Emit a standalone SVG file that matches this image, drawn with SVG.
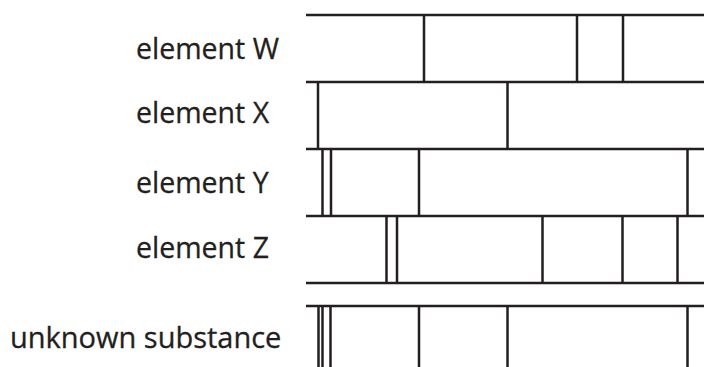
<svg xmlns="http://www.w3.org/2000/svg" width="704" height="367" viewBox="0 0 704 367">
<style>
  .ln { stroke: #231f20; stroke-width: 2.5; fill: none; }
  .lbl { font-family: "Open Sans", "Noto Sans", sans-serif; font-size: 28.5px; fill: #231f20; stroke: #231f20; stroke-width: 0.3; }
</style>
<rect width="704" height="367" fill="#ffffff"/>
<g id="labels">
  <text class="lbl" x="136" y="59">element W</text>
  <text class="lbl" x="136" y="123">element X</text>
  <text class="lbl" x="136" y="193">element Y</text>
  <text class="lbl" x="136" y="257.5">element Z</text>
  <text class="lbl" x="10" y="347.5" style="font-size:29px">unknown substance</text>
</g>
<g id="connectors">
  <path class="ln" d="M306 15H704M306 82H704M306 149H704M306 216H704M306 283H704M306 306H704"/>
  <g id="row-W">
    <path class="ln" d="M424 15V82M577 15V82M623 15V82"/>
  </g>
  <g id="row-X">
    <path class="ln" d="M318 82V149M507.5 82V149"/>
  </g>
  <g id="row-Y">
    <path class="ln" d="M322.5 149V216M331 149V216M419 149V216M687.5 149V216"/>
  </g>
  <g id="row-Z">
    <path class="ln" d="M386.5 216V283M397 216V283M542.5 216V283M622.5 216V283M677.5 216V283"/>
  </g>
  <g id="row-unknown">
    <path class="ln" d="M318.5 306V367M322.5 306V367M330.5 306V367M419 306V367M507.5 306V367M687.5 306V367"/>
  </g>
</g>
</svg>
